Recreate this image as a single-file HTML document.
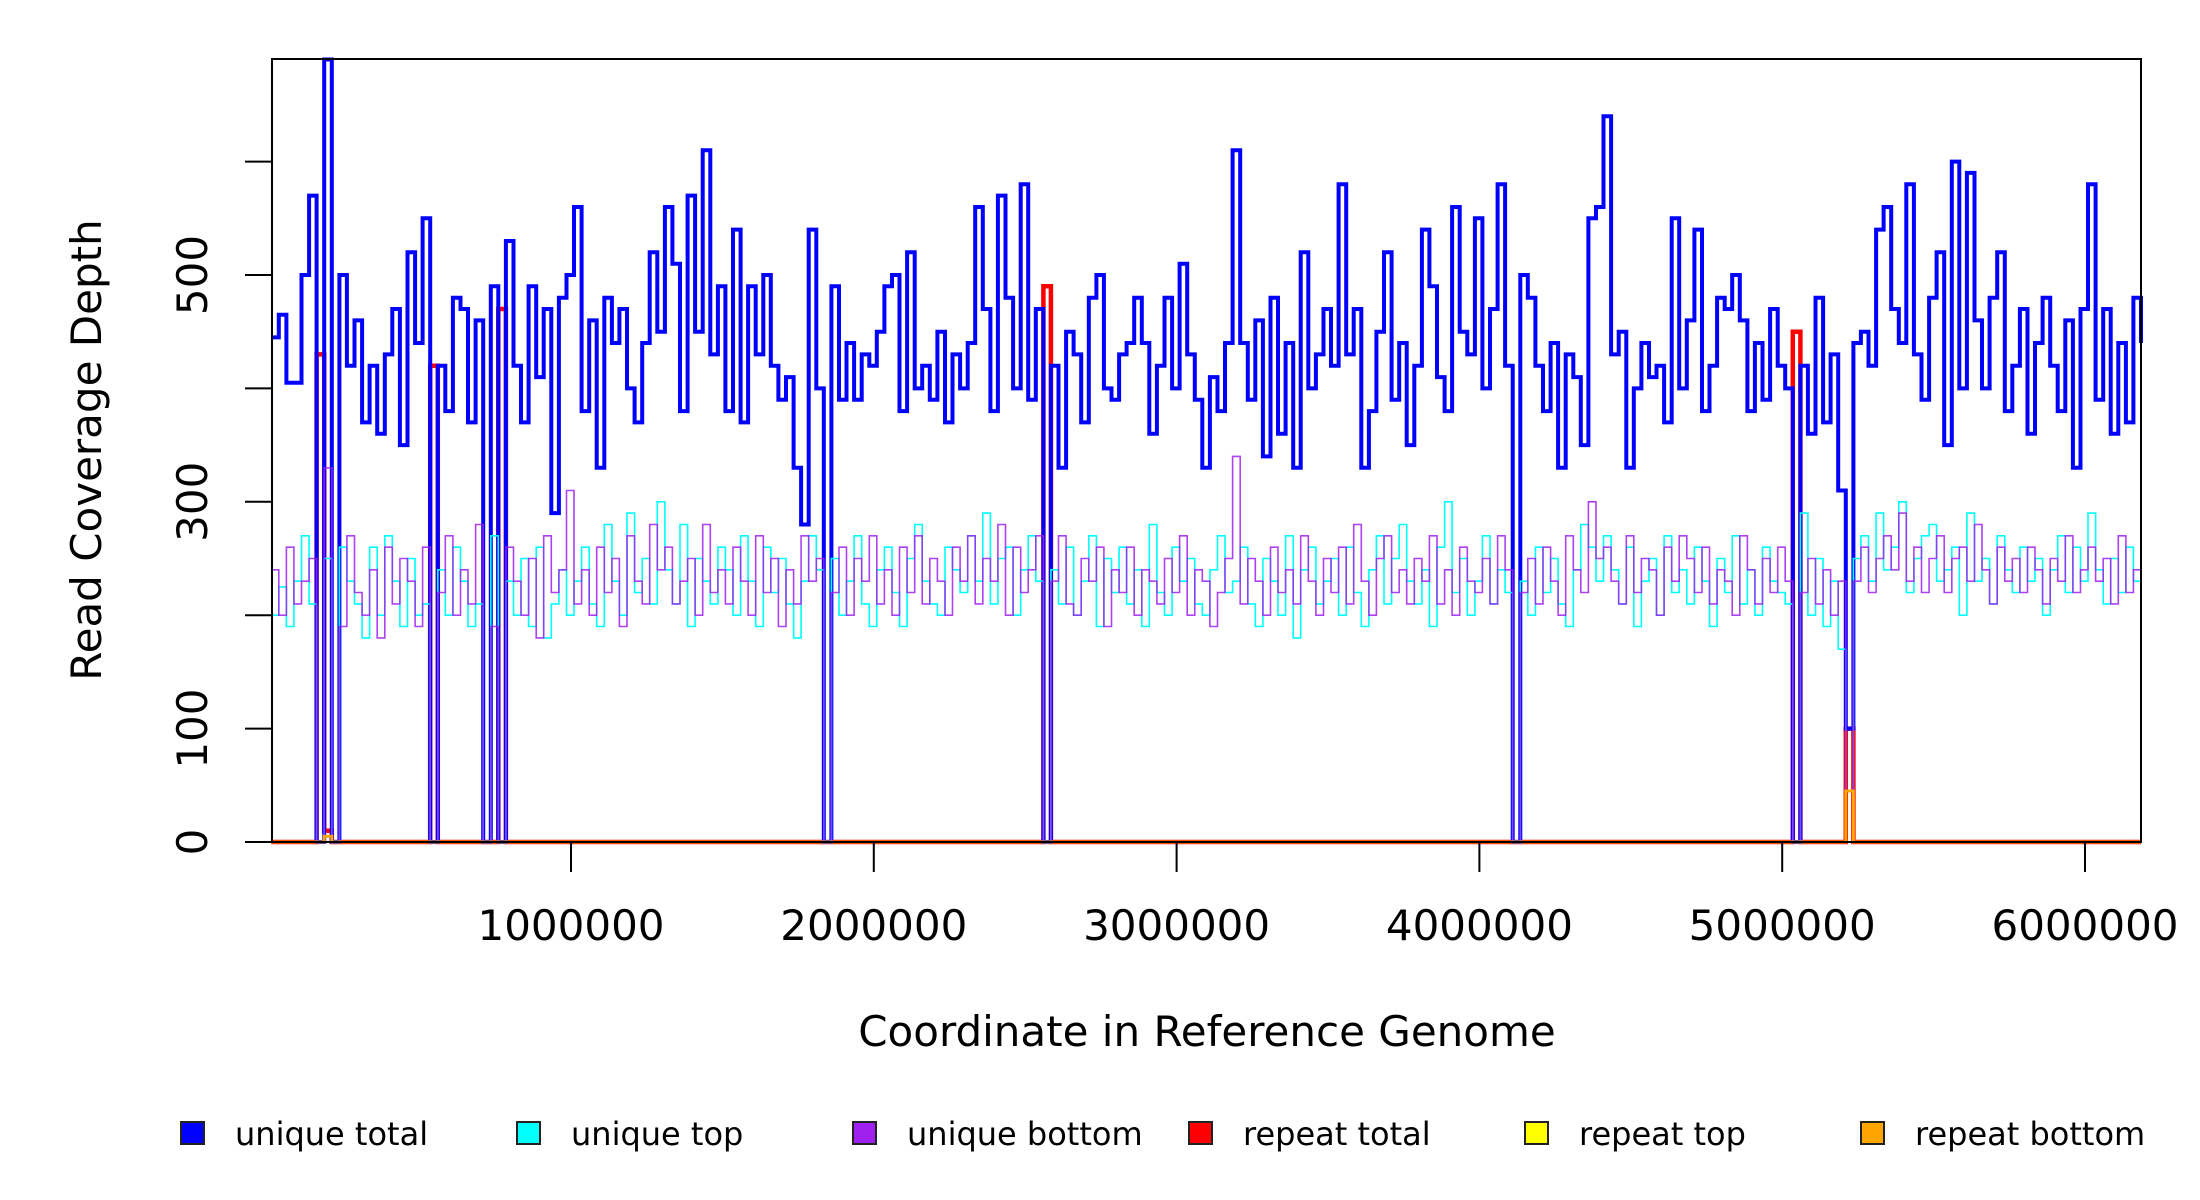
<!DOCTYPE html>
<html><head><meta charset="utf-8"><style>
html,body{margin:0;padding:0;background:#fff;}
svg{display:block;font-family:"DejaVu Sans","Liberation Sans",sans-serif;}
</style></head><body>
<svg id="chart" width="2200" height="1200" viewBox="0 0 2200 1200">
<g id="series"></g>
<rect x="272" y="59" width="1869" height="783" fill="none" stroke="#000" stroke-width="2"/>
<g id="axes"></g>
<text x="1207" y="1046" font-size="42" text-anchor="middle">Coordinate in Reference Genome</text>
<text transform="translate(101,450) rotate(-90)" font-size="42" text-anchor="middle">Read Coverage Depth</text>
<g id="legend"></g>
</svg>
<script>
const binStart = 10000;
const binWidth = 25000;
const uniqueTotal = [445,465,405,405,500,570,0,690,0,500,
420,460,370,420,360,430,470,350,520,440,
550,0,420,380,480,470,370,460,0,490,0,
530,420,370,490,410,470,290,480,500,560,
380,460,330,480,440,470,400,370,440,520,
450,560,510,380,570,450,610,430,490,380,
540,370,490,430,500,420,390,410,330,280,540,400,0,
490,390,440,390,430,420,450,
490,500,380,520,400,420,390,450,370,430,
400,440,560,470,380,570,480,400,580,390,470,
0,
420,330,450,430,370,480,500,400,390,430,
440,480,440,360,420,480,400,510,430,390,
330,410,380,440,610,440,
390,460,340,480,360,440,330,520,400,430,470,420,
580,430,470,330,380,450,520,390,440,350,
420,540,490,410,380,560,450,430,550,400,470,580,420,
0,
500,480,420,380,440,330,430,410,350,550,560,
640,
430,450,330,400,440,410,420,370,550,400,
460,540,380,420,480,470,500,460,380,440,390,470,420,400,
0,
420,360,480,370,430,310,
100,
440,450,420,540,560,470,440,580,430,390,480,520,
350,600,400,590,460,400,480,520,380,420,
470,360,440,480,420,380,460,330,470,580,
390,470,360,440,370,480,440];
const uniqueTop = [200,225,190,230,270,210,0,250,0,260,
230,210,180,260,200,270,230,190,250,200,
210,0,240,200,260,230,190,210,0,270,0,
230,200,250,190,260,180,210,240,200,230,
260,210,190,280,230,200,290,220,250,210,
300,240,210,280,190,250,230,210,260,240,
200,270,230,190,260,220,250,210,180,230,270,240,0,
250,200,230,270,210,190,240,
260,220,190,250,280,230,210,200,260,240,
220,270,230,290,210,250,260,200,240,270,230,
0,
240,210,260,200,230,270,190,250,220,260,
210,240,190,280,220,200,260,230,250,210,
200,240,270,220,230,260,
210,190,250,230,200,270,180,240,260,210,230,250,
200,260,220,190,240,270,210,250,280,230,
210,240,190,260,300,220,250,200,230,270,210,240,220,
0,
230,200,260,220,250,210,190,240,280,260,230,
270,
240,210,260,190,230,250,200,270,220,240,
210,260,230,190,250,220,270,210,240,200,260,230,220,210,
0,
290,200,250,190,230,170,
0,
250,270,230,290,240,260,300,220,250,270,280,230,
240,260,200,290,230,250,210,270,240,220,
260,230,250,200,240,270,220,260,230,290,
240,210,250,220,260,230,240];
const uniqueBottom = [240,200,260,210,230,250,0,330,0,190,
270,220,200,240,180,260,210,250,230,190,
260,0,220,270,200,240,210,280,0,190,0,
260,230,200,250,180,270,220,240,310,210,
240,200,260,220,250,190,270,230,210,280,
240,260,210,230,250,200,280,220,240,210,
260,230,200,270,220,250,190,240,210,270,230,250,0,
220,260,200,250,230,270,210,
240,200,260,220,270,210,250,230,200,260,
230,270,210,250,230,280,200,260,220,240,270,
0,
230,270,210,200,250,230,260,190,240,220,
260,200,240,230,210,250,220,270,200,240,
230,190,220,250,340,210,
250,230,200,260,220,240,210,270,230,200,250,220,
260,210,280,230,200,250,270,220,240,210,
250,230,270,210,240,200,260,230,220,250,210,270,240,
0,
220,250,210,260,230,200,270,240,220,300,250,
260,
230,210,270,220,250,240,200,260,230,270,
250,220,260,210,240,230,200,270,240,210,250,220,260,230,
0,
220,250,210,240,200,230,
0,
230,260,220,250,270,240,290,230,260,220,250,270,
220,250,260,230,280,240,210,260,230,250,
220,260,240,210,250,230,270,220,240,260,
230,250,210,270,220,240,230];
const repeatBins = [6,7,21,30,102,201,208];
const repeatTotalVals = [430,10,420,470,490,450,100];
const repeatTopVals = [0,0,0,0,0,0,0];
const repeatBottomVals = [0,5,0,0,0,0,45];
const xTicks = [1000000,2000000,3000000,4000000,5000000,6000000];
const yTicks = [0,100,200,300,400,500,600];
const yTickLabels = ["0","100","","300","","500",""];
const legendLabels = ["unique total","unique top","unique bottom","repeat total","repeat top","repeat bottom"];
const legendColors = ["#0000ff","#00ffff","#a020f0","#ff0000","#ffff00","#ffa500"];

const NS = "http://www.w3.org/2000/svg";
function xs(v){ return 268.2 + v * 302.8 / 1000000; }
function ys(v){ return 842 - v * 1.134; }
function expand(bins, vals, n){ const a = new Array(n).fill(0); bins.forEach((b,i)=>{a[b]=vals[i];}); return a; }
function stepPath(vals){
  let d = "";
  vals.forEach((v,i)=>{
    const x0 = xs(binStart + i*binWidth), x1 = Math.min(xs(binStart + (i+1)*binWidth), 2141);
    d += (i===0 ? "M"+x0.toFixed(1)+","+ys(v).toFixed(1) : "V"+ys(v).toFixed(1)) + "H"+x1.toFixed(1);
  });
  return d;
}
const n = uniqueTotal.length;
const seriesDefs = [
  [expand(repeatBins, repeatTotalVals, n), "#ff0000", 4.5, "repeat-total-line"],
  [uniqueTotal, "#0000ff", 4, "unique-total-line"],
  [uniqueTop, "#00ffff", 1.6, "unique-top-line"],
  [uniqueBottom, "#a020f0", 1.6, "unique-bottom-line"],
  [expand(repeatBins, repeatTopVals, n), "#ffff00", 2, "repeat-top-line"],
  [expand(repeatBins, repeatBottomVals, n), "#ffa500", 3, "repeat-bottom-line"]
];
const sg = document.getElementById("series");
seriesDefs.forEach(s=>{
  const p = document.createElementNS(NS,"path");
  p.setAttribute("d", stepPath(s[0]));
  p.setAttribute("fill","none");
  p.setAttribute("stroke", s[1]);
  p.setAttribute("stroke-width", s[2]);
  p.setAttribute("stroke-opacity", s[1]==="#a020f0" ? "0.85" : "1");
  
  
  sg.appendChild(p);
});
const ag = document.getElementById("axes");
xTicks.forEach(t=>{
  const x = xs(t);
  const l = document.createElementNS(NS,"line");
  l.setAttribute("x1",x); l.setAttribute("x2",x); l.setAttribute("y1",842); l.setAttribute("y2",872);
  l.setAttribute("stroke","#000"); l.setAttribute("stroke-width","2");
  
  
  ag.appendChild(l);
  const tx = document.createElementNS(NS,"text");
  tx.setAttribute("x",x); tx.setAttribute("y",940); tx.setAttribute("font-size","42"); tx.setAttribute("text-anchor","middle");
  tx.textContent = String(t);
  
  
  ag.appendChild(tx);
});
yTicks.forEach((t,i)=>{
  const y = ys(t);
  const l = document.createElementNS(NS,"line");
  l.setAttribute("x1",245); l.setAttribute("x2",272); l.setAttribute("y1",y); l.setAttribute("y2",y);
  l.setAttribute("stroke","#000"); l.setAttribute("stroke-width","2");
  
  
  ag.appendChild(l);
  if (yTickLabels[i]) {
    const tx = document.createElementNS(NS,"text");
    tx.setAttribute("transform","translate(207,"+y+") rotate(-90)");
    tx.setAttribute("font-size","42"); tx.setAttribute("text-anchor","middle");
    tx.textContent = yTickLabels[i];
    
    
    ag.appendChild(tx);
  }
});
const lg = document.getElementById("legend");
legendLabels.forEach((lab,i)=>{
  const x = 181 + i*336;
  const r = document.createElementNS(NS,"rect");
  r.setAttribute("x",x); r.setAttribute("y",1122); r.setAttribute("width",23); r.setAttribute("height",22);
  r.setAttribute("fill",legendColors[i]); r.setAttribute("stroke","#222"); r.setAttribute("stroke-width","2");
  
  
  lg.appendChild(r);
  const t = document.createElementNS(NS,"text");
  t.setAttribute("x",x+54); t.setAttribute("y",1145); t.setAttribute("font-size","32");
  t.textContent = lab;
  
  
  lg.appendChild(t);
});
</script>
</body></html>
